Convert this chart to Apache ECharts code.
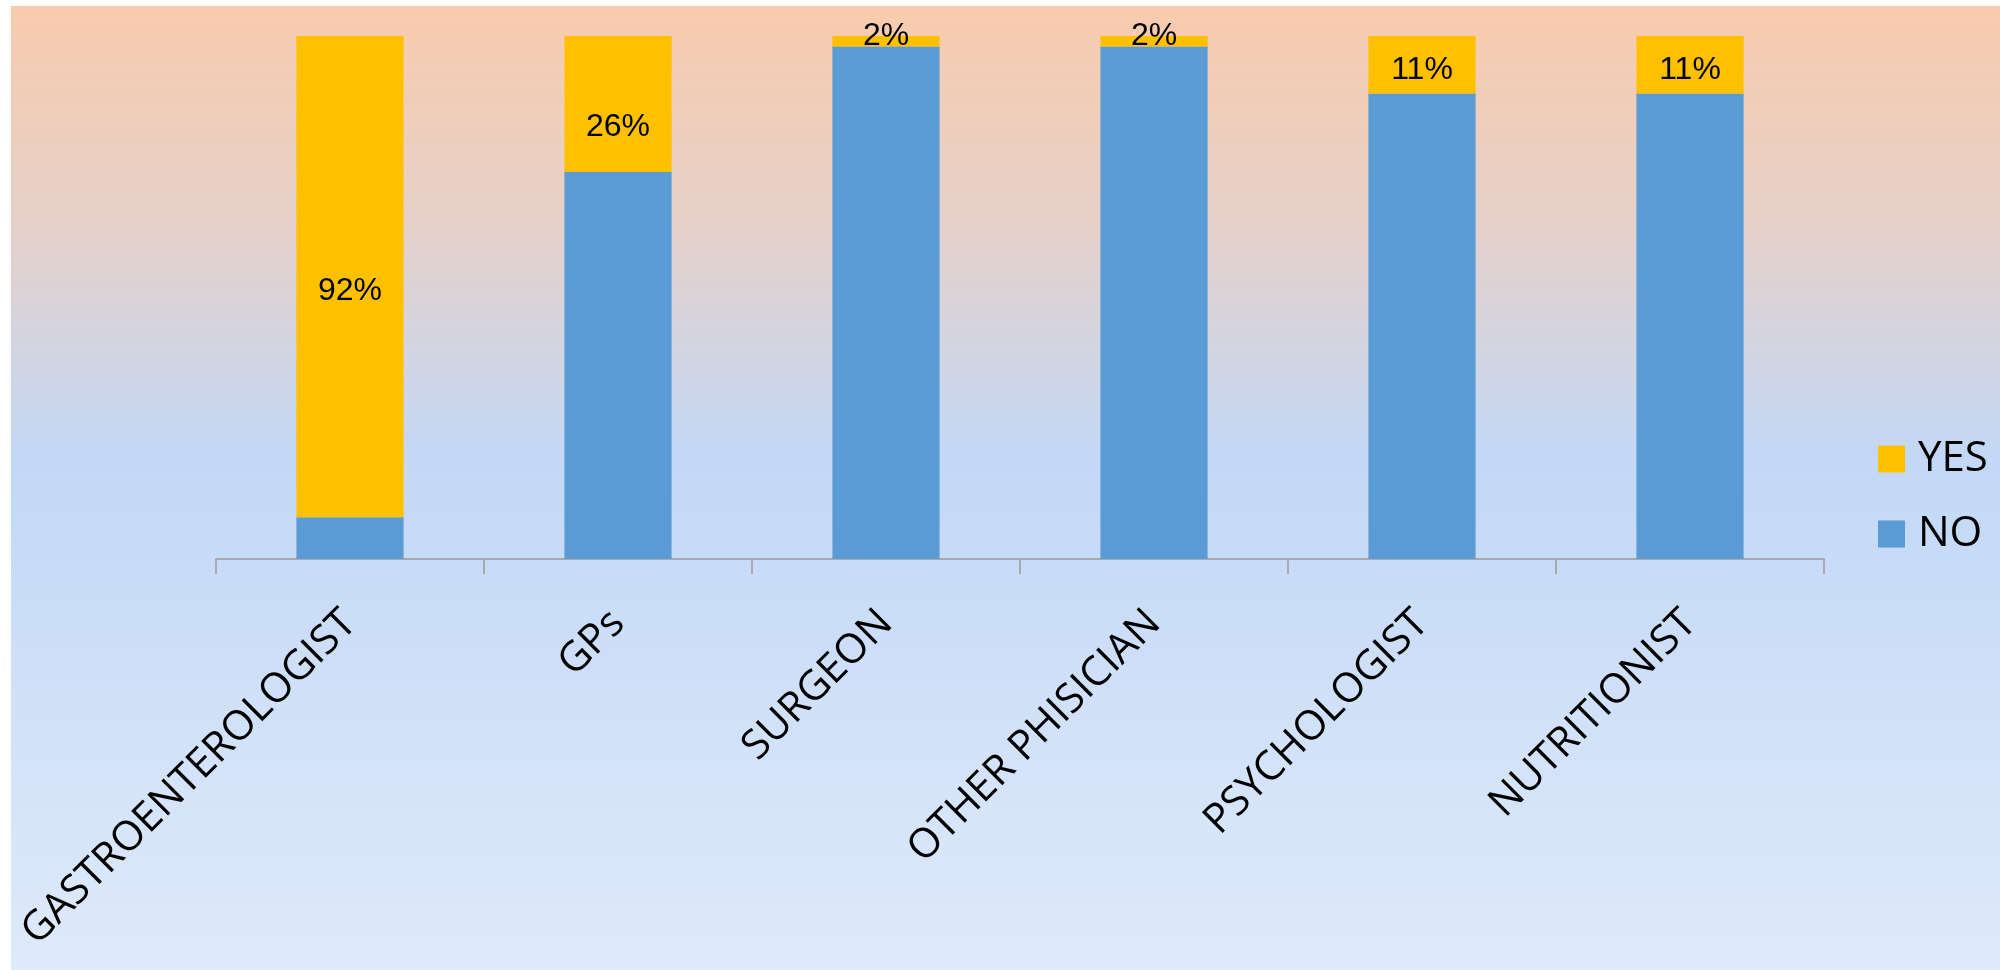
<!DOCTYPE html>
<html>
<head>
<meta charset="utf-8">
<style>
  html, body { margin: 0; padding: 0; background: #ffffff; }
  #chart { width: 2000px; height: 970px; }
</style>
<script src="https://cdn.jsdelivr.net/npm/echarts@6/dist/echarts.min.js"></script>
</head>
<body>
<div id="chart"></div>
<script>
// Specialists consulted: share of YES / NO answers (percent)
const categories = ['GASTROENTEROLOGIST', 'GPs', 'SURGEON', 'OTHER PHISICIAN', 'PSYCHOLOGIST', 'NUTRITIONIST'];
const yesValues = [92, 26, 2, 2, 11, 11];
const noValues = [8, 74, 98, 98, 89, 89];
const seriesNames = ['YES', 'NO'];

// vertical nudge (px) of each YES value label from the segment centre
const yesLabelShift = [15, 23, -5, -5, 5, 5];

const chart = echarts.init(document.getElementById('chart'), null, { renderer: 'canvas' });

const yesData = yesValues.map((v, i) => ({
  value: v,
  label: { offset: [0, yesLabelShift[i]] }
}));

chart.setOption({
  animation: false,
  backgroundColor: '#ffffff',
  graphic: [{
    type: 'rect',
    z: -10,
    silent: true,
    shape: { x: 11, y: 6, width: 1989, height: 964 },
    style: {
      fill: new echarts.graphic.LinearGradient(0, 0, 0, 1, [
        { offset: 0, color: '#F8CBAD' },
        { offset: 0.22, color: '#E6D0C8' },
        { offset: 0.47, color: '#C2D8F6' },
        { offset: 1, color: '#DFEAFA' }
      ])
    }
  }],
  grid: { left: 216, right: 176, top: 36, bottom: 411, containLabel: false },
  legend: {
    data: [seriesNames[0], seriesNames[1]],
    orient: 'vertical',
    left: 1873,
    top: 433,
    itemWidth: 27,
    itemHeight: 27,
    itemGap: 33,
    icon: 'rect',
    selectedMode: false,
    textStyle: {
      fontFamily: 'Open Sans',
      fontSize: 42,
      lineHeight: 41,
      color: '#000000',
      padding: [0, 0, 0, 8]
    }
  },
  xAxis: {
    type: 'category',
    data: categories,
    boundaryGap: true,
    axisLine: { show: true, lineStyle: { color: '#9A9A9A', width: 1.5 } },
    axisTick: { show: true, length: 15, alignWithLabel: false, lineStyle: { color: '#9A9A9A', width: 1.5 } },
    axisLabel: {
      rotate: 45,
      interval: 0,
      margin: 58,
      fontFamily: 'Open Sans',
      fontSize: 41,
      color: '#000000'
    },
    splitLine: { show: false }
  },
  yAxis: {
    type: 'value',
    min: 0,
    max: 100,
    show: false,
    splitLine: { show: false }
  },
  series: [
    {
      name: seriesNames[1],
      type: 'bar',
      stack: 'total',
      barWidth: '40%',
      itemStyle: { color: '#5B9BD5' },
      data: noValues
    },
    {
      name: seriesNames[0],
      type: 'bar',
      stack: 'total',
      barWidth: '40%',
      itemStyle: { color: '#FFC000' },
      label: {
        show: true,
        position: 'inside',
        formatter: '{c}%',
        fontFamily: 'Liberation Sans',
        fontSize: 32,
        color: '#000000'
      },
      data: yesData
    }
  ]
});
</script>
</body>
</html>
